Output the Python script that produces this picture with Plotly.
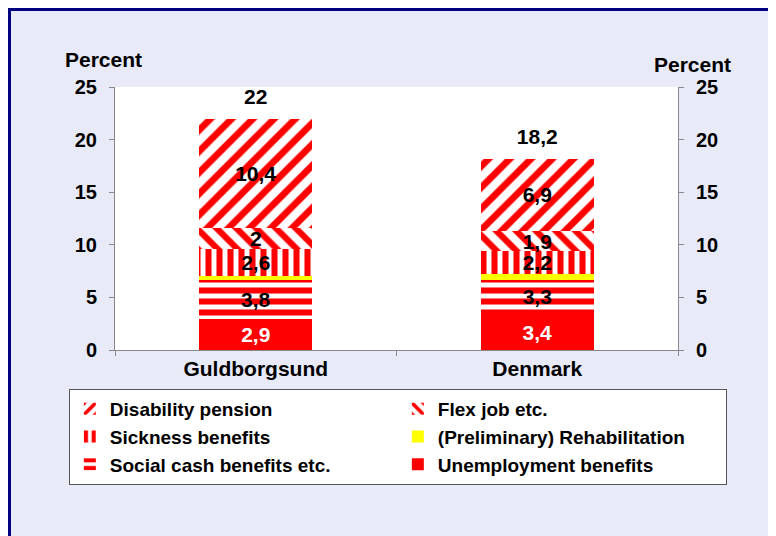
import plotly.graph_objects as go

places = ["Guldborgsund", "Denmark"]

unemployment = [2.9, 3.4]
social_cash = [3.8, 3.3]
rehabilitation = [0.3, 0.5]
sickness = [2.6, 2.2]
flex_job = [2.0, 1.9]
disability = [10.4, 6.9]
totals = [22, 18.2]

RED = "#FF0000"


def lbl(vals):
    return [f"{v:g}".replace(".", ",") for v in vals]


def pat(shape, size, solid):
    return dict(color="white", pattern=dict(shape=shape, fgcolor=RED, bgcolor="white", fgopacity=1,
                                            size=size, solidity=solid, fillmode="replace"))


fig = go.Figure()

# stacking order from the bottom up
series = [
    ("Unemployment benefits", unemployment, dict(color=RED), "white", True),
    ("Social cash benefits etc.", social_cash, pat("-", 11, 0.55), "black", True),
    ("(Preliminary) Rehabilitation", rehabilitation, dict(color="#FFFF00"), "black", False),
    ("Sickness benefits", sickness, pat("|", 11, 0.55), "black", True),
    ("Flex job etc.", flex_job, pat("\\", 14, 0.45), "black", True),
    ("Disability pension", disability, pat("/", 15, 0.45), "black", True),
]

for name, vals, marker, tcol, show in series:
    marker = dict(marker, line=dict(width=0))
    fig.add_trace(go.Bar(
        name=name, x=places, y=vals, marker=marker,
        text=lbl(vals) if show else None,
        textposition="inside", insidetextanchor="middle", textangle=0,
        constraintext="none",
        textfont=dict(color=tcol, size=21, weight="bold"),
        width=0.4,
    ))

# totals above the bars, on the right-hand axis so that axis gets drawn
fig.add_trace(go.Scatter(
    x=places, y=totals, yaxis="y2", mode="markers+text",
    marker=dict(size=14, opacity=0), text=lbl(totals), textposition="top center",
    textfont=dict(size=21, color="black", weight="bold"),
    showlegend=False, hoverinfo="skip", cliponaxis=False,
))

axis_common = dict(range=[0, 25], dtick=5, ticks="outside", ticklen=5, tickcolor="#888888",
                   showline=True, linecolor="#888888", linewidth=1, showgrid=False, zeroline=False,
                   ticklabelstandoff=8, tickfont=dict(size=20, weight="bold"))

fig.update_layout(
    width=776, height=536,
    margin=dict(l=107, r=106, t=79, b=194),
    paper_bgcolor="#E8EAF8", plot_bgcolor="white",
    barmode="stack",
    separators=", ",
    font=dict(family="Liberation Sans, Arial, sans-serif", size=21, color="black", weight="bold"),
    uniformtext=dict(mode="show", minsize=21),
    xaxis=dict(showline=True, linecolor="#888888", ticks="outside", ticklen=5, tickcolor="#888888",
               tickson="boundaries", tickfont=dict(size=21, weight="bold"), showgrid=False),
    yaxis=axis_common,
    yaxis2=dict(axis_common, overlaying="y", side="right"),
    legend=dict(orientation="h", traceorder="reversed", x=-0.082, y=-0.148, xanchor="left", yanchor="top",
                bgcolor="white", bordercolor="#555555", borderwidth=1, entrywidth=283, entrywidthmode="pixels",
                itemwidth=30, font=dict(size=19, weight="bold")),
    shapes=[dict(type="rect", xref="paper", yref="paper", x0=-0.1874, x1=1.3, y0=-0.9, y1=1.2947,
                 line=dict(color="#000080", width=3), layer="below")],
    annotations=[
        dict(text="Percent", xref="paper", yref="paper", x=-0.02, y=1.103, showarrow=False,
             xanchor="center", yanchor="middle", font=dict(size=21, weight="bold")),
        dict(text="Percent", xref="paper", yref="paper", x=1.025, y=1.087, showarrow=False,
             xanchor="center", yanchor="middle", font=dict(size=21, weight="bold")),
    ],
    showlegend=True,
)

fig.write_html("out.html")
